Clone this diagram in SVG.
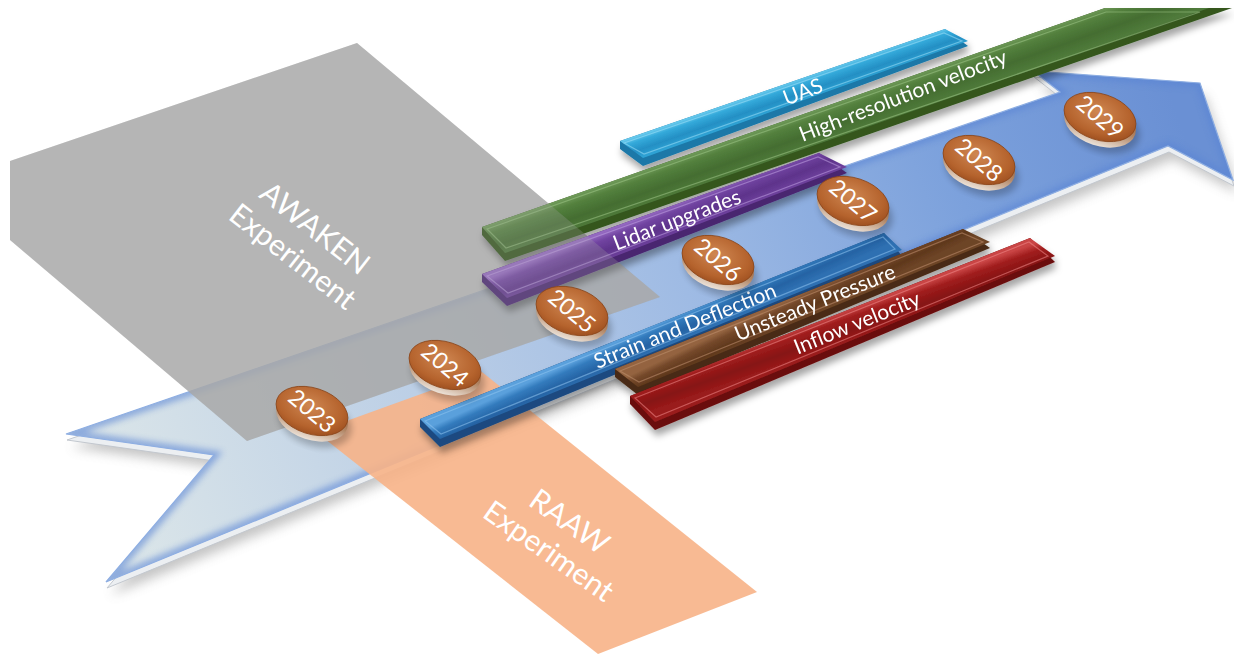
<svg xmlns="http://www.w3.org/2000/svg" width="1234" height="655" viewBox="0 0 1234 655">
  <defs>
    <style>
      .lbl{font-family:Lato,"Open Sans","Liberation Sans",sans-serif;fill:#ffffff;}
      .bar-label{font-size:21px;text-anchor:middle;}
      .year{font-size:23px;text-anchor:middle;}
      .panel-label{font-size:30px;text-anchor:middle;}
      .rim{fill:none;stroke-width:1.2;stroke-opacity:.55;}
      .gray-panel{fill:#a9a9a9;}
    </style>
    <filter id="blur6" x="-10%" y="-10%" width="120%" height="130%"><feGaussianBlur stdDeviation="6"/></filter>
    <filter id="blur3" x="-10%" y="-10%" width="120%" height="120%"><feGaussianBlur stdDeviation="3"/></filter>
    <filter id="barShadow" x="-10%" y="-20%" width="120%" height="160%">
      <feGaussianBlur in="SourceAlpha" stdDeviation="3.5"/>
      <feOffset dx="2" dy="6" result="b"/>
      <feFlood flood-color="#000" flood-opacity=".35"/>
      <feComposite in2="b" operator="in"/>
      <feMerge><feMergeNode/><feMergeNode in="SourceGraphic"/></feMerge>
    </filter>
    <linearGradient id="arrowFill" gradientUnits="userSpaceOnUse" x1="90" y1="520" x2="1180" y2="120">
      <stop offset="0" stop-color="#dde7e9"/>
      <stop offset="0.3" stop-color="#bccfe6"/>
      <stop offset="0.55" stop-color="#9fbbe4"/>
      <stop offset="0.8" stop-color="#7ca1dc"/>
      <stop offset="1" stop-color="#6a90d4"/>
    </linearGradient>
    <clipPath id="arrowClip">
      <path d="M66,434 L1060,92 L1033,71 L1200,83 L1233,180 L1168,146 L106,582 L214,455 Z"/>
    </clipPath>
    <radialGradient id="coinTop" cx="0.45" cy="0.4" r="0.65">
      <stop offset="0" stop-color="#cf8752"/>
      <stop offset="0.7" stop-color="#b5632d"/>
      <stop offset="1" stop-color="#9a4c1d"/>
    </radialGradient>
    <linearGradient id="coinSide" x1="0" y1="0" x2="0" y2="1">
      <stop offset="0" stop-color="#8a471d"/>
      <stop offset="0.55" stop-color="#b08463"/>
      <stop offset="1" stop-color="#ece2d8"/>
    </linearGradient>
    <g id="coin">
      <ellipse rx="38" ry="24" transform="translate(3,11) rotate(18)" fill="#000" opacity=".22" filter="url(#blur3)"/>
      <ellipse rx="37" ry="23" transform="translate(0,6) rotate(18)" fill="url(#coinSide)"/>
      <ellipse rx="37" ry="23" transform="rotate(18)" fill="url(#coinTop)" stroke="#8b4519" stroke-width=".8"/>
    </g>
    <!-- bar face gradients, laid across each bar's width -->
    <linearGradient id="gUAS" gradientUnits="userSpaceOnUse" x1="783" y1="85" x2="790" y2="105">
      <stop offset="0" stop-color="#66c8ec"/><stop offset=".25" stop-color="#33a9da"/><stop offset=".65" stop-color="#248fc4"/><stop offset="1" stop-color="#2ea2d4"/>
    </linearGradient>
    <linearGradient id="gGreen" gradientUnits="userSpaceOnUse" x1="800" y1="115" x2="811" y2="146">
      <stop offset="0" stop-color="#6f9a59"/><stop offset=".25" stop-color="#53803d"/><stop offset=".65" stop-color="#446d31"/><stop offset="1" stop-color="#4f7a3a"/>
    </linearGradient>
    <linearGradient id="gPurple" gradientUnits="userSpaceOnUse" x1="650" y1="214" x2="660" y2="239">
      <stop offset="0" stop-color="#9367c0"/><stop offset=".25" stop-color="#7144a1"/><stop offset=".65" stop-color="#5e338b"/><stop offset="1" stop-color="#6c3f9b"/>
    </linearGradient>
    <linearGradient id="gStrain" gradientUnits="userSpaceOnUse" x1="650" y1="327" x2="660" y2="349">
      <stop offset="0" stop-color="#5aa0dc"/><stop offset=".25" stop-color="#337bbd"/><stop offset=".65" stop-color="#2563a4"/><stop offset="1" stop-color="#2f70b2"/>
    </linearGradient>
    <linearGradient id="gBrown" gradientUnits="userSpaceOnUse" x1="790" y1="299" x2="800" y2="320">
      <stop offset="0" stop-color="#946440"/><stop offset=".25" stop-color="#74482a"/><stop offset=".65" stop-color="#5f381c"/><stop offset="1" stop-color="#6d4426"/>
    </linearGradient>
    <linearGradient id="gRed" gradientUnits="userSpaceOnUse" x1="840" y1="313" x2="850" y2="341">
      <stop offset="0" stop-color="#c94444"/><stop offset=".25" stop-color="#a11e1e"/><stop offset=".65" stop-color="#861212"/><stop offset="1" stop-color="#9a1b1b"/>
    </linearGradient>
  </defs>

  <rect width="1234" height="655" fill="#ffffff"/>

  <!-- timeline arrow: shadow, thickness, top face, inner edge glow -->
  <g id="timeline-arrow">
    <path d="M66,434 L1060,92 L1033,71 L1200,83 L1233,180 L1168,146 L106,582 L214,455 Z" transform="translate(5,13)" fill="#7d7d7d" opacity=".45" filter="url(#blur6)"/>
    <path d="M66,434 L1060,92 L1033,71 L1200,83 L1233,180 L1168,146 L106,582 L214,455 Z" transform="translate(1,6)" fill="#eceff2" stroke="#c3c8cf" stroke-width="1"/>
    <path d="M66,434 L1060,92 L1033,71 L1200,83 L1233,180 L1168,146 L106,582 L214,455 Z" fill="url(#arrowFill)"/>
    <path d="M66,434 L1060,92 L1033,71 L1200,83 L1233,180 L1168,146 L106,582 L214,455 Z" fill="none" stroke="#5a84d4" stroke-width="9" opacity=".6" filter="url(#blur3)" clip-path="url(#arrowClip)"/>
    <path d="M66,434 L1060,92 L1033,71 L1200,83 L1233,180 L1168,146 L106,582 L214,455 Z" fill="none" stroke="#8eaee2" stroke-width="1.2"/>
  </g>

  <!-- AWAKEN panel (label drawn with the panel's top veil further down) -->
  <polygon id="awaken-panel-base" class="gray-panel" points="357,43 10,161 10,240 247,441 660,297" opacity=".8"/>

  <!-- RAAW panel -->
  <g id="raaw-panel">
    <polygon points="316,432 482,372 757,592 598,654" fill="#f7b287" opacity=".9"/>
    <text class="lbl panel-label" transform="translate(560,535) rotate(35)"><tspan x="0" y="-6">RAAW</tspan><tspan x="0" y="30">Experiment</tspan></text>
  </g>

  <!-- measurement bars -->
  <g id="bar-uas" filter="url(#barShadow)">
    <polygon points="620,141 945,29 968,46 643,166 620,149" fill="#1a78a8"/>
    <polygon points="620,141 945,29 968,41 643,158" fill="url(#gUAS)"/>
    <polygon class="rim" points="624,143 944,33 962,41 644,154" stroke="#9fe0f8"/>
    <text class="lbl bar-label" transform="translate(803,92) rotate(-21)" y="7">UAS</text>
  </g>
  <g id="bar-high-resolution-velocity" filter="url(#barShadow)">
    <polygon points="482,227 1105,8 1232,8 505,261 482,235" fill="#34561f"/>
    <polygon points="482,227 1105,8 1209,8 505,253" fill="url(#gGreen)"/>
    <polygon class="rim" points="487,229 1106,12 1200,12 506,248" stroke="#9cc586"/>
    <text class="lbl bar-label" transform="translate(903,96) rotate(-21)" y="7">High-resolution velocity</text>
  </g>
  <g id="bar-lidar-upgrades" filter="url(#barShadow)">
    <polygon points="482,274 819,153 847,173 507,306 482,282" fill="#4a2670"/>
    <polygon points="482,274 819,153 847,167 507,298" fill="url(#gPurple)"/>
    <polygon class="rim" points="487,276 818,157 840,167 508,293" stroke="#c0a0e2"/>
    <text class="lbl bar-label" transform="translate(677,220) rotate(-21)" y="7">Lidar upgrades</text>
  </g>
  <g id="bar-strain-deflection" filter="url(#barShadow)">
    <polygon points="420,419 884,233 902,256 440,447 420,427" fill="#1c4a80"/>
    <polygon points="420,419 884,233 902,250 440,439" fill="url(#gStrain)"/>
    <polygon class="rim" points="425,421 883,237 895,249 441,434" stroke="#90c4f0"/>
    <text class="lbl bar-label" transform="translate(685,326) rotate(-22)" y="7">Strain and Deflection</text>
  </g>
  <g id="bar-unsteady-pressure" filter="url(#barShadow)">
    <polygon points="615,369 963,229 990,248 638,395 615,377" fill="#4a2b14"/>
    <polygon points="615,369 963,229 990,242 638,387" fill="url(#gBrown)"/>
    <polygon class="rim" points="620,371 962,233 983,242 639,382" stroke="#c09070"/>
    <text class="lbl bar-label" transform="translate(815,303) rotate(-22)" y="7">Unsteady Pressure</text>
  </g>
  <g id="bar-inflow-velocity" filter="url(#barShadow)">
    <polygon points="630,396 1030,238 1055,262 655,430 630,404" fill="#6a0e0e"/>
    <polygon points="630,396 1030,238 1055,256 655,422" fill="url(#gRed)"/>
    <polygon class="rim" points="635,398 1029,242 1048,256 656,417" stroke="#f08a8a"/>
    <text class="lbl bar-label" transform="translate(857,323) rotate(-22)" y="7">Inflow velocity</text>
  </g>

  <!-- AWAKEN panel: light veil over the bar ends, plus its label -->
  <g id="awaken-panel">
    <polygon class="gray-panel" points="357,43 10,161 10,240 247,441 660,297" opacity=".25"/>
    <text class="lbl panel-label" transform="translate(305,241) rotate(38)"><tspan x="0" y="-6">AWAKEN</tspan><tspan x="0" y="30">Experiment</tspan></text>
  </g>

  <!-- year markers -->
  <g id="year-2023" transform="translate(312,411)"><use href="#coin"/><text class="lbl year" transform="rotate(40)" y="8">2023</text></g>
  <g id="year-2024" transform="translate(445,365)"><use href="#coin"/><text class="lbl year" transform="rotate(40)" y="8">2024</text></g>
  <g id="year-2025" transform="translate(572,311)"><use href="#coin"/><text class="lbl year" transform="rotate(40)" y="8">2025</text></g>
  <g id="year-2026" transform="translate(718,260)"><use href="#coin"/><text class="lbl year" transform="rotate(40)" y="8">2026</text></g>
  <g id="year-2027" transform="translate(853,201)"><use href="#coin"/><text class="lbl year" transform="rotate(40)" y="8">2027</text></g>
  <g id="year-2028" transform="translate(979,160)"><use href="#coin"/><text class="lbl year" transform="rotate(40)" y="8">2028</text></g>
  <g id="year-2029" transform="translate(1100,117)"><use href="#coin"/><text class="lbl year" transform="rotate(40)" y="8">2029</text></g>
</svg>
